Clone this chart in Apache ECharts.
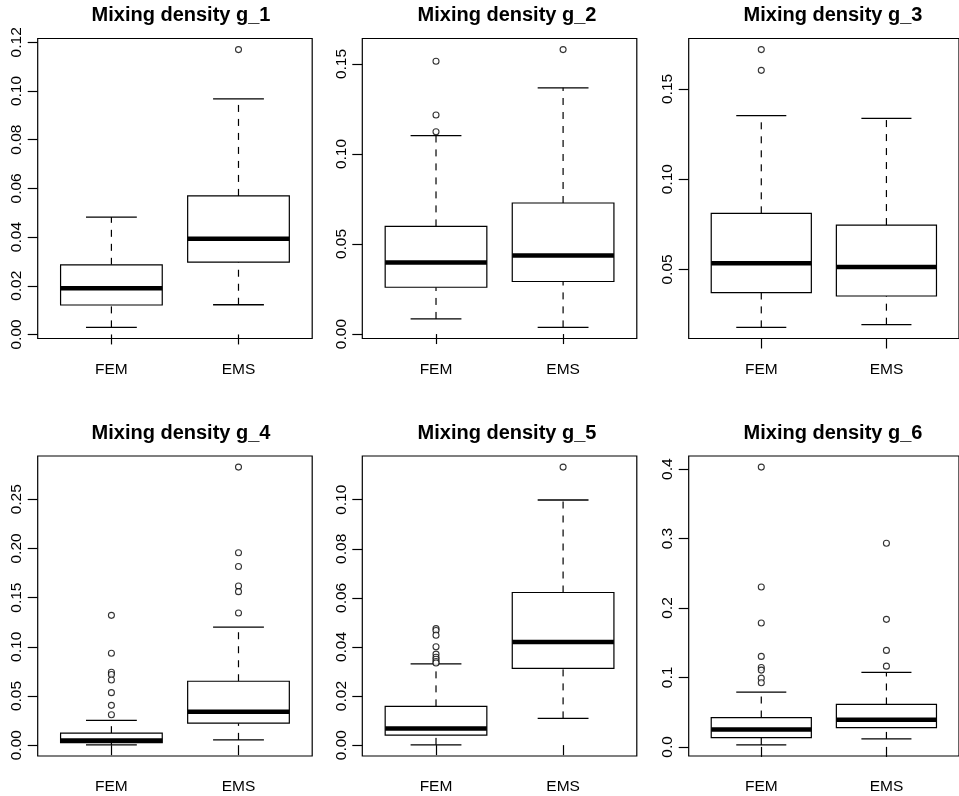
<!DOCTYPE html>
<html>
<head>
<meta charset="utf-8">
<script src="https://cdn.jsdelivr.net/npm/echarts@6/dist/echarts.min.js"></script>
<style>
  html, body { margin: 0; padding: 0; background: #fff; }
  #chart { width: 959px; height: 796px; }
</style>
</head>
<body>
<div id="chart"></div>
<script>
// groups on the x axis
var categories = ["FEM", "EMS"];

// box stats per group: [lower whisker, Q1, median, Q3, upper whisker]
var g1Stats = [[0.0029, 0.0121, 0.0190, 0.0286, 0.0482], [0.0122, 0.0297, 0.0393, 0.0569, 0.0968]];
var g1Outliers = [[], [0.117]];
var g1Ticks = [0, 0.02, 0.04, 0.06, 0.08, 0.10, 0.12];
var g1TickLabels = ["0.00", "0.02", "0.04", "0.06", "0.08", "0.10", "0.12"];

var g2Stats = [[0.0084, 0.0260, 0.0398, 0.0598, 0.1102], [0.0037, 0.0292, 0.0437, 0.0728, 0.1368]];
var g2Outliers = [[0.1515, 0.1217, 0.1124], [0.158]];
var g2Ticks = [0, 0.05, 0.10, 0.15];
var g2TickLabels = ["0.00", "0.05", "0.10", "0.15"];

var g3Stats = [[0.0179, 0.0372, 0.0535, 0.0811, 0.1352], [0.0194, 0.0353, 0.0513, 0.0746, 0.1337]];
var g3Outliers = [[0.1718, 0.1603], []];
var g3Ticks = [0.05, 0.10, 0.15];
var g3TickLabels = ["0.05", "0.10", "0.15"];

var g4Stats = [[0.0003, 0.0027, 0.0048, 0.0122, 0.0252], [0.0054, 0.0224, 0.0340, 0.0650, 0.1201]];
var g4Outliers = [[0.132, 0.0935, 0.0741, 0.0718, 0.0663, 0.0534, 0.0405, 0.031],
                  [0.2827, 0.1956, 0.1816, 0.1619, 0.1561, 0.1344]];
var g4Ticks = [0, 0.05, 0.10, 0.15, 0.20, 0.25];
var g4TickLabels = ["0.00", "0.05", "0.10", "0.15", "0.20", "0.25"];

var g5Stats = [[0.0001, 0.0041, 0.0068, 0.0158, 0.0331], [0.0109, 0.0313, 0.0420, 0.0622, 0.0999]];
var g5Outliers = [[0.0475, 0.0467, 0.0448, 0.0401, 0.0371, 0.0358, 0.0350, 0.0341, 0.0335], [0.1133]];
var g5Ticks = [0, 0.02, 0.04, 0.06, 0.08, 0.10];
var g5TickLabels = ["0.00", "0.02", "0.04", "0.06", "0.08", "0.10"];

var g6Stats = [[0.0029, 0.0135, 0.0250, 0.0423, 0.0788], [0.0115, 0.0279, 0.0390, 0.0611, 0.1072]];
var g6Outliers = [[0.4029, 0.2303, 0.1784, 0.1303, 0.1144, 0.1106, 0.099, 0.0923],
                  [0.2933, 0.1837, 0.139, 0.1163]];
var g6Ticks = [0, 0.1, 0.2, 0.3, 0.4];
var g6TickLabels = ["0.0", "0.1", "0.2", "0.3", "0.4"];

var titles = ["Mixing density g_1", "Mixing density g_2", "Mixing density g_3",
              "Mixing density g_4", "Mixing density g_5", "Mixing density g_6"];

var panels = [
    { stats: g1Stats, outliers: g1Outliers, ticks: g1Ticks, labels: g1TickLabels },
    { stats: g2Stats, outliers: g2Outliers, ticks: g2Ticks, labels: g2TickLabels },
    { stats: g3Stats, outliers: g3Outliers, ticks: g3Ticks, labels: g3TickLabels },
    { stats: g4Stats, outliers: g4Outliers, ticks: g4Ticks, labels: g4TickLabels },
    { stats: g5Stats, outliers: g5Outliers, ticks: g5Ticks, labels: g5TickLabels },
    { stats: g6Stats, outliers: g6Outliers, ticks: g6Ticks, labels: g6TickLabels }
];

// layout of the six plot boxes
var colLeft = [37.7, 362.3, 688.7];
var rowTop = [38.5, 456];
var boxW = 274.5, boxH = 300;
var titleX = [181, 507, 833];
var titleY = [5, 423];

var FONT = "'Liberation Sans', Arial, Helvetica, sans-serif";

function renderBox(params, api) {
    var x = api.value(0);
    var lo = api.value(1), q1 = api.value(2), med = api.value(3), q3 = api.value(4), hi = api.value(5);
    var pLo = api.coord([x, lo]), pQ1 = api.coord([x, q1]), pQ3 = api.coord([x, q3]), pHi = api.coord([x, hi]);
    var pMed = api.coord([x, med]);
    var boxL = api.coord([x - 0.4, med])[0], boxR = api.coord([x + 0.4, med])[0];
    var capL = api.coord([x - 0.2, med])[0], capR = api.coord([x + 0.2, med])[0];
    var thin = { stroke: "#000", lineWidth: 1.3, fill: null };
    var dashed = { stroke: "#000", lineWidth: 1.2, lineDash: [7, 7] };
    return {
        type: "group",
        children: [
            { type: "line", shape: { x1: pLo[0], y1: pLo[1], x2: pQ1[0], y2: pQ1[1] }, style: dashed },
            { type: "line", shape: { x1: pQ3[0], y1: pQ3[1], x2: pHi[0], y2: pHi[1] }, style: dashed },
            { type: "line", shape: { x1: capL, y1: pLo[1], x2: capR, y2: pLo[1] }, style: thin },
            { type: "line", shape: { x1: capL, y1: pHi[1], x2: capR, y2: pHi[1] }, style: thin },
            { type: "rect", shape: { x: boxL, y: pQ3[1], width: boxR - boxL, height: pQ1[1] - pQ3[1] },
              style: { fill: "#fff", stroke: "#000", lineWidth: 1.2 } },
            { type: "line", shape: { x1: boxL, y1: pMed[1], x2: boxR, y2: pMed[1] },
              style: { stroke: "#000", lineWidth: 4.5 } }
        ]
    };
}

var grid = [], xAxis = [], yAxis = [], series = [], title = [];

panels.forEach(function (p, i) {
    var col = i % 3, row = Math.floor(i / 3);

    // y range like R: data range padded by 4%
    var all = [];
    p.stats.forEach(function (s) { all = all.concat(s); });
    p.outliers.forEach(function (o) { all = all.concat(o); });
    var lo = Math.min.apply(null, all), hi = Math.max.apply(null, all);
    var pad = (hi - lo) * 0.04;

    grid.push({
        left: colLeft[col], top: rowTop[row], width: boxW, height: boxH,
        show: true, borderColor: "#000", borderWidth: 1.2, backgroundColor: "transparent"
    });
    title.push({
        text: titles[i], left: titleX[col], top: titleY[row], textAlign: "center", padding: 0,
        textStyle: { fontFamily: FONT, fontWeight: "bold", fontSize: 20, color: "#000" }
    });
    xAxis.push({
        type: "value", gridIndex: i, min: 0.42, max: 2.58,
        axisLine: { show: false }, splitLine: { show: false },
        axisTick: { show: true, customValues: [1, 2], length: 10, lineStyle: { color: "#000", width: 1.2 } },
        axisLabel: {
            customValues: [1, 2], margin: 23, color: "#000", fontFamily: FONT, fontSize: 15.5,
            formatter: function (v) { return categories[Math.round(v) - 1]; }
        }
    });
    yAxis.push({
        type: "value", gridIndex: i, min: lo - pad, max: hi + pad,
        axisLine: { show: false }, splitLine: { show: false },
        axisTick: { show: true, customValues: p.ticks, length: 10, lineStyle: { color: "#000", width: 1.2 } },
        axisLabel: {
            customValues: p.ticks, rotate: 90, margin: 13, color: "#000", fontFamily: FONT, fontSize: 15.5,
            formatter: function (v) {
                for (var k = 0; k < p.ticks.length; k++) {
                    if (Math.abs(p.ticks[k] - v) < 1e-9) return p.labels[k];
                }
                return "";
            }
        }
    });

    series.push({
        type: "custom", xAxisIndex: i, yAxisIndex: i, clip: false,
        renderItem: renderBox,
        data: p.stats.map(function (s, j) { return [j + 1].concat(s); })
    });

    var pts = [];
    p.outliers.forEach(function (o, j) {
        o.forEach(function (v) { pts.push([j + 1, v]); });
    });
    series.push({
        type: "scatter", xAxisIndex: i, yAxisIndex: i,
        symbol: "circle", symbolSize: 6,
        itemStyle: { color: "#fff", borderColor: "#000", borderWidth: 1.1 },
        data: pts
    });
});

var myChart = echarts.init(document.getElementById("chart"));
myChart.setOption({
    animation: false,
    backgroundColor: "#fff",
    title: title,
    grid: grid,
    xAxis: xAxis,
    yAxis: yAxis,
    series: series
});
</script>
</body>
</html>
